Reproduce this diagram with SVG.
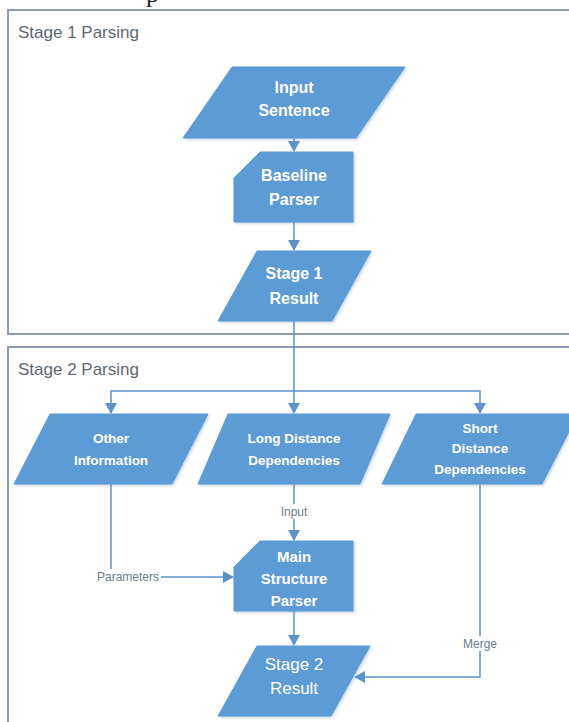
<svg xmlns="http://www.w3.org/2000/svg" width="569" height="722" viewBox="0 0 569 722">
<style>
.frame{fill:#ffffff;stroke:#8b9bab;stroke-width:2}
.title{font-family:"Liberation Sans",Arial,sans-serif;font-size:17px;fill:#5d6872}
.node{fill:#5b9bd5;stroke:#5b9bd5;stroke-width:1;filter:url(#sh)}
.nt{font-family:"Liberation Sans",Arial,sans-serif;font-weight:bold;fill:#ffffff;text-anchor:middle}
.nr{font-family:"Liberation Sans",Arial,sans-serif;fill:#ffffff;text-anchor:middle;font-size:17px}
.conn{fill:none;stroke:#5b93c9;stroke-width:1.5}
.lbl{font-family:"Liberation Sans",Arial,sans-serif;font-size:12px;fill:#6b7c8c;text-anchor:middle}
.lblbg{fill:#ffffff}
</style>
<defs>
<marker id="arr" markerUnits="userSpaceOnUse" markerWidth="12" markerHeight="12" refX="10" refY="6" orient="auto">
<path d="M0,0 L11,6 L0,12 Z" fill="#5b93c9"/>
</marker>
<filter id="sh" x="-10%" y="-10%" width="130%" height="130%">
<feDropShadow dx="1.5" dy="1.5" stdDeviation="1.2" flood-color="#6a8fb5" flood-opacity="0.35"/>
</filter>
</defs>
<rect width="569" height="722" fill="#ffffff"/>
<text x="146" y="2" font-family="'Liberation Serif',serif" font-size="26" fill="#222">p</text>

<g id="stage1">
<rect class="frame" x="8" y="10" width="575" height="324"/>
<text class="title" x="18" y="38">Stage 1 Parsing</text>
</g>
<g id="stage2">
<rect class="frame" x="8" y="347" width="575" height="390"/>
<text class="title" x="18" y="375">Stage 2 Parsing</text>
</g>

<g id="connectors">
<path class="conn" d="M294,138 V151" marker-end="url(#arr)"/>
<path class="conn" d="M294,222 V250" marker-end="url(#arr)"/>
<path class="conn" d="M294,320 V413" marker-end="url(#arr)"/>
<path class="conn" d="M294,391 H111 V413" marker-end="url(#arr)"/>
<path class="conn" d="M294,391 H480 V413" marker-end="url(#arr)"/>
<path class="conn" d="M111,484 V577 H233" marker-end="url(#arr)"/>
<path class="conn" d="M294,484 V540" marker-end="url(#arr)"/>
<path class="conn" d="M294,611 V645" marker-end="url(#arr)"/>
<path class="conn" d="M480,484 V677 H355" marker-end="url(#arr)"/>
<rect class="lblbg" x="95" y="569" width="66" height="15"/>
<text class="lbl" x="128" y="581">Parameters</text>
<rect class="lblbg" x="278" y="504" width="32" height="15"/>
<text class="lbl" x="294" y="516">Input</text>
<rect class="lblbg" x="460" y="636" width="40" height="15"/>
<text class="lbl" x="480" y="648">Merge</text>
</g>

<g id="input-sentence">
<polygon class="node" points="232,67 405,67 356,138 183,138"/>
<text class="nt" font-size="16" x="294" y="93">Input</text>
<text class="nt" font-size="16" x="294" y="116">Sentence</text>
</g>
<g id="baseline-parser">
<polygon class="node" points="260,152 353,152 353,222 234,222 234,178"/>
<text class="nt" font-size="16" x="294" y="181">Baseline</text>
<text class="nt" font-size="16" x="294" y="205">Parser</text>
</g>
<g id="stage1-result">
<polygon class="node" points="257,251 371,251 332,321 218,321"/>
<text class="nt" font-size="16" x="294" y="279">Stage 1</text>
<text class="nt" font-size="16" x="294" y="304">Result</text>
</g>
<g id="other-information">
<polygon class="node" points="50,414 208,414 172,484 14,484"/>
<text class="nt" font-size="13.5" x="111" y="443">Other</text>
<text class="nt" font-size="13.5" x="111" y="465">Information</text>
</g>
<g id="long-distance">
<polygon class="node" points="228,414 390,414 360,484 198,484"/>
<text class="nt" font-size="13.5" x="294" y="443">Long Distance</text>
<text class="nt" font-size="13.5" x="294" y="465">Dependencies</text>
</g>
<g id="short-distance">
<polygon class="node" points="416,414 578,414 542,484 382,484"/>
<text class="nt" font-size="13.5" x="480" y="433">Short</text>
<text class="nt" font-size="13.5" x="480" y="453">Distance</text>
<text class="nt" font-size="13.5" x="480" y="474">Dependencies</text>
</g>
<g id="main-structure-parser">
<polygon class="node" points="260,541 353,541 353,611 234,611 234,567"/>
<text class="nt" font-size="15" x="294" y="562">Main</text>
<text class="nt" font-size="15" x="294" y="584">Structure</text>
<text class="nt" font-size="15" x="294" y="606">Parser</text>
</g>
<g id="stage2-result">
<polygon class="node" points="257,646 370,646 331,716 218,716"/>
<text class="nr" x="294" y="670">Stage 2</text>
<text class="nr" x="294" y="694">Result</text>
</g>
</svg>
